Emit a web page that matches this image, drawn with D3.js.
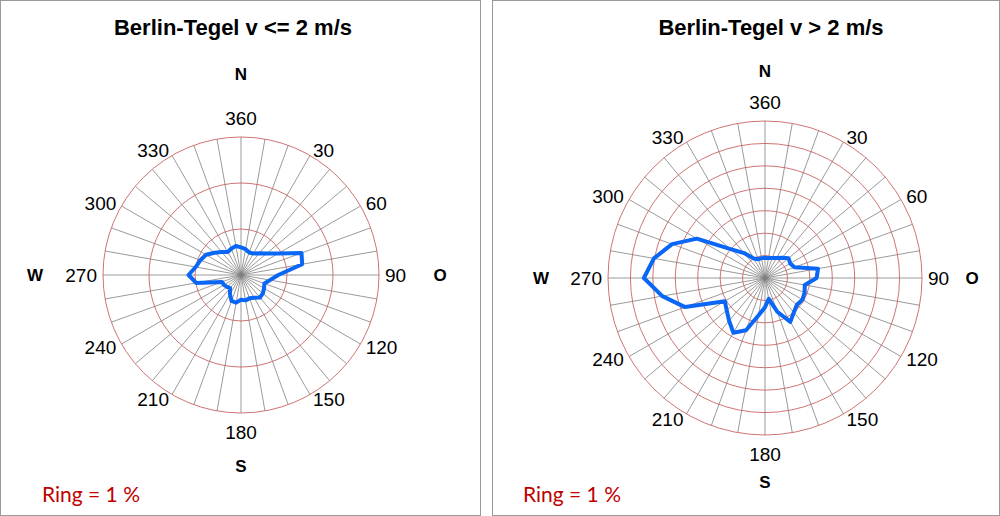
<!DOCTYPE html>
<html>
<head>
	<meta charset="utf-8">
	<title>Berlin-Tegel Windrosen</title>
	<script src="https://d3js.org/d3.v7.min.js"></script>
	<style>
		body { margin: 0; background: #fff; }
	</style>
</head>
<body>
	<div class="chart"></div>

	<script type="text/javascript">

		// Windrichtung in Grad, alle 10 Grad
		var directions = [0, 10, 20, 30, 40, 50, 60, 70, 80, 90, 100, 110,
			120, 130, 140, 150, 160, 170, 180, 190, 200, 210, 220, 230,
			240, 250, 260, 270, 280, 290, 300, 310, 320, 330, 340, 350]

		// Haeufigkeit in % fuer v <= 2 m/s
		var calmValues = [0.60, 0.57, 0.52, 0.54, 0.62, 0.73, 0.94, 1.40, 1.35, 0.81, 0.64, 0.54,
			0.58, 0.62, 0.64, 0.57, 0.54, 0.56, 0.54, 0.61, 0.60, 0.48, 0.37, 0.40,
			0.43, 0.44, 0.99, 1.14, 1.00, 0.94, 0.88, 0.75, 0.65, 0.58, 0.61, 0.64]

		// Haeufigkeit in % fuer v > 2 m/s
		var windValues = [0.90, 0.90, 0.95, 1.03, 1.18, 1.37, 1.30, 1.40, 2.40, 2.30, 1.80, 1.88,
			1.93, 1.86, 2.00, 2.26, 1.60, 0.95, 1.30, 1.70, 2.48, 2.82, 2.49, 2.23,
			2.07, 3.79, 4.65, 5.40, 5.03, 4.41, 3.51, 2.00, 1.45, 1.00, 0.89, 0.90]

		// Gradbeschriftung
		var labelAngles = [0, 30, 60, 90, 120, 150, 180, 210, 240, 270, 300, 330]
		var labelTexts = ['360', '30', '60', '90', '120', '150', '180', '210', '240', '270', '300', '330']

		// Himmelsrichtungen
		var compassAngles = [0, 90, 180, 270]
		var compassTexts = ['N', 'O', 'S', 'W']

		var width = 1000
		var height = 516

		var svg = d3
			.select('.chart')
			.append('svg')
			.attr('width', width)
			.attr('height', height)
			.style('display', 'block')
			.style('background-color', '#fff')

		// Rahmen der beiden Felder
		svg.append('rect')
			.attr('x', 0.5).attr('y', 0.5)
			.attr('width', 480).attr('height', 515)
			.attr('fill', 'none').attr('stroke', '#9a9a9a')
		svg.append('rect')
			.attr('x', 492.5).attr('y', 0.5)
			.attr('width', 507).attr('height', 515)
			.attr('fill', 'none').attr('stroke', '#9a9a9a')

		var charts = [
			{
				title: 'Berlin-Tegel v <= 2 m/s',
				titleX: 233,
				values: calmValues,
				cx: 241, cy: 275, radius: 138, rings: 3,
				letterDist: [201, 199, 191, 206],
				ringX: 42
			},
			{
				title: 'Berlin-Tegel v > 2 m/s',
				titleX: 771,
				values: windValues,
				cx: 765, cy: 278, radius: 157, rings: 7,
				letterDist: [207, 207, 204, 224],
				ringX: 523
			}
		]

		charts.forEach(drawRose)

		function drawRose(cfg) {
			var data = directions.map((d, i) => ({ dir: d, value: cfg.values[i] }))

			var angle = d3.scaleLinear().domain([0, 360]).range([0, Math.PI * 2])
			var rScale = d3.scaleLinear().domain([0, cfg.rings]).range([0, cfg.radius])

			// Titel
			svg.append('text')
				.attr('x', cfg.titleX)
				.attr('y', 35)
				.attr('text-anchor', 'middle')
				.style('font-family', '"Liberation Sans", Arial, sans-serif')
				.style('font-weight', 'bold')
				.style('font-size', '22px')
				.text(cfg.title)

			var g = svg.append('g').attr('transform', `translate(${cfg.cx}, ${cfg.cy})`)

			// Speichen
			g.selectAll()
				.data(directions)
				.enter()
				.append('line')
				.attr('x1', 0).attr('y1', 0)
				.attr('x2', (d) => d3.pointRadial(angle(d), cfg.radius)[0])
				.attr('y2', (d) => d3.pointRadial(angle(d), cfg.radius)[1])
				.attr('stroke', '#808080')
				.attr('stroke-width', 0.8)

			// Ringe, je Ring 1 %
			g.selectAll()
				.data(d3.range(1, cfg.rings + 1))
				.enter()
				.append('circle')
				.attr('r', (d) => rScale(d))
				.attr('fill', 'none')
				.attr('stroke', '#c86464')
				.attr('stroke-width', 0.9)

			// Windrose
			var line = d3
				.lineRadial()
				.angle((d) => angle(d.dir))
				.radius((d) => rScale(d.value))
				.curve(d3.curveLinearClosed)

			g.append('path')
				.datum(data)
				.attr('d', line)
				.attr('fill', 'none')
				.attr('stroke', '#0a66f5')
				.attr('stroke-width', 4)
				.attr('stroke-linejoin', 'round')

			// Gradzahlen
			g.selectAll()
				.data(labelAngles)
				.enter()
				.append('text')
				.attr('x', (d) => {
					var p = d3.pointRadial(angle(d), cfg.radius + 6)
					return d % 180 === 0 ? 0 : p[0]
				})
				.attr('y', (d) => {
					if (d === 0) return -cfg.radius - 19
					if (d === 180) return cfg.radius + 19
					return d3.pointRadial(angle(d), cfg.radius + 6)[1]
				})
				.attr('dy', '0.35em')
				.attr('text-anchor', (d) => d % 180 === 0 ? 'middle' : (d < 180 ? 'start' : 'end'))
				.style('font-family', '"Liberation Sans", Arial, sans-serif')
				.style('font-size', '19px')
				.text((d, i) => labelTexts[i])

			// N O S W
			g.selectAll()
				.data(compassAngles)
				.enter()
				.append('text')
				.attr('x', (d, i) => d3.pointRadial(angle(d), cfg.letterDist[i])[0])
				.attr('y', (d, i) => d3.pointRadial(angle(d), cfg.letterDist[i])[1])
				.attr('dy', '0.35em')
				.attr('text-anchor', 'middle')
				.style('font-family', '"Liberation Sans", Arial, sans-serif')
				.style('font-weight', 'bold')
				.style('font-size', '17px')
				.text((d, i) => compassTexts[i])

			// Massstab
			svg.append('text')
				.attr('x', cfg.ringX)
				.attr('y', 502)
				.style('font-family', 'Lato, "Open Sans", sans-serif')
				.style('font-size', '21px')
				.attr('fill', '#c00000')
				.text('Ring = 1 %')
		}

	</script>
</body>
</html>
